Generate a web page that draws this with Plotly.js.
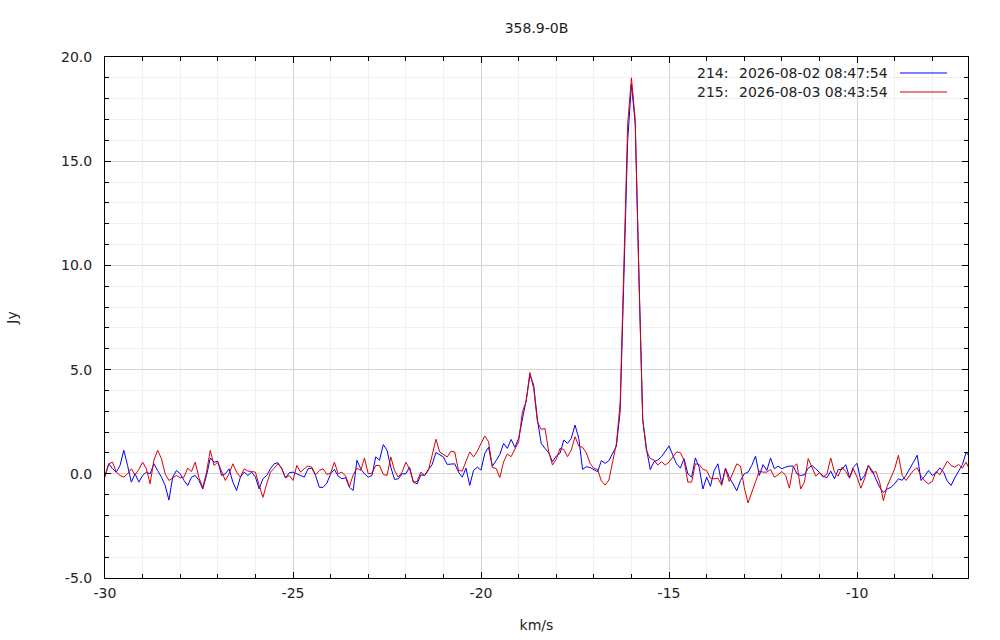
<!DOCTYPE html>
<html>
<head>
<meta charset="utf-8">
<script src="https://cdn.plot.ly/plotly-3.0.1.min.js"></script>
<style>
  html, body { margin: 0; padding: 0; background: #fff; }
  #plot { width: 1000px; height: 640px; }
</style>
</head>
<body>
<div id="plot"></div>
<script>
// channel velocities: -30.0 .. -7.0 km/s, 0.1 km/s per channel
var velStart = -30.0;
var velStep = 0.1;

var scanIds = ['214:', '215:'];
var scanTimes = ['2026-08-02 08:47:54', '2026-08-03 08:43:54'];

// tick labels (gnuplot style, plain hyphen minus)
var xTickVals = [-30, -25, -20, -15, -10];
var xTickText = ['-30', '-25', '-20', '-15', '-10'];
var yTickVals = [-5, 0, 5, 10, 15, 20];
var yTickText = ['-5.0', '0.0', '5.0', '10.0', '15.0', '20.0'];

// flux density (Jy), scan 214
var flux214 = [
  -0.08, 0.48, 0.24, 0.08, 0.4, 1.13, 0.4, -0.4, 0, -0.4,
  -0.08, 0.08, 0, 0.48, 0.16, -0.16, -0.56, -1.26, -0.16, 0.16,
  0, -0.32, -0.56, -0.16, -0.08, -0.32, -0.73, -0.08, 0.76, 0.56,
  0.6, -0.08, 0, 0.24, -0.4, -0.8, -0.16, 0.08, -0.08, 0.08,
  -0.16, -0.73, -0.24, -0.08, 0.24, 0.48, 0.53, 0.24, -0.2, 0.05,
  0.08, 0, -0.08, -0.16, 0.24, 0.27, -0.08, -0.65, -0.65, -0.45,
  0, 0.21, -0.11, -0.24, -0.19, -0.65, -0.8, 0.65, 0.24, 0,
  -0.16, -0.08, 0.81, 0.65, 1.4, 1.13, 0.32, -0.27, -0.24, 0,
  0, 0.32, -0.4, -0.48, -0.05, -0.08, 0.21, 0.44, 1.02, 0.92,
  0.81, 0.45, 0.47, 0.48, 0.08, -0.16, 0.27, -0.56, 0.16, 0.32,
  0.18, 0.98, 1.27, 0.37, 0.63, 0.93, 1.46, 1.22, 1.65, 1.27,
  1.7, 2.58, 3.54, 4.74, 4.26, 2.58, 1.46, 1.22, 1.01, 0.58,
  0.85, 0.98, 1.62, 1.46, 1.7, 2.34, 1.7, 0.21, 0.34, 0.3,
  0.21, 0.1, 0.63, 0.5, 0.63, 0.98, 1.33,
  3.0, 10.0, 16.0, 18.7, 16.8, 9.5, 2.6, 1.2,
  0.2, 0.58, 0.66, 0.82, 1.06,
  1.34, 0.89, 0.48, 0.27, 0.73, 0, -0.16, 0.76, 0.32, -0.73,
  -0.16, -0.6, 0.16, 0.48, -0.48, 0.27, -0.16, -0.48, -0.81, -0.32,
  0, 0.08, 0.4, 0.85, -0.08, 0.44, 0.16, 0.76, 0.24, 0.37,
  0.24, 0.32, 0.37, 0.37, 0, -0.08, -0.05, 0.27, 0.4, 0.24,
  0.05,
  -0.11, -0.19, 0.13, -0.24, 0.21, 0.21, 0.44, -0.18, 0.32, 0.5,
  -0.32, -0.08, 0.4, 0.16, -0.29, -0.65, -0.89, -0.73, -0.65, -0.48,
  -0.24, -0.31, -0.08, 0.27, 0.56, 0.89, -0.32, -0.11, 0.16, -0.08,
  0.03, 0.29, 0.08, -0.35, -0.56, -0.19, 0.16, 0.44, 1.02, 0.81
];

// flux density (Jy), scan 215
var flux215 = [
  -0.16, 0.48, 0.56, 0.08, -0.08, -0.16, 0, 0.24, -0.05, 0.21,
  0.56, 0.24, -0.48, 0.65, 1.13, 0.73, 0, -0.32, -0.2, -0.08,
  -0.19, -0.16, 0.27, 0.11, 0.56, -0.2, -0.65, 0.08, 1.13, 0.4,
  0.56, 0.16, -0.32, 0, 0.48, 0.08, -0.16, 0.24, 0.13, 0.11,
  0.08, -0.56, -1.13, -0.48, 0.08, 0.27, 0.48, 0.27, -0.2, -0.08,
  -0.32, 0.4, 0.08, 0.24, 0.37, 0.32, -0.05, 0.16, 0.24, -0.03,
  0.03, 0.56, 0, 0.08, -0.11, -0.61, -0.05, 0.27, 0.16, 0.76,
  0, 0.03, 0.4, 0.4, -0.03, -0.08, 0.81, 0.16, -0.16, 0.08,
  0.56, 0.24, -0.4, -0.37, 0.08, -0.08, 0.16, 0.89, 1.66, 1.05,
  0.92, 0.81, 1.08, 1.05, 0.16, 0.13, 0.6, 1.05, 0.81, 1.08,
  1.46, 1.81, 1.54, 0.3, 0.26, -0.18, 0.58, 0.95, 0.82, 1.2,
  1.54, 2.98, 3.46, 4.86, 4.1, 2.5, 2.13, 2.18, 1.06, 0.42,
  0.69, 1.22, 1.17, 0.82, 1.14, 1.78, 1.33, 1.27, 1.01, 0.5,
  0.26, 0.21, -0.34, -0.54, -0.3, 0.58, 1.46,
  3.4, 10.4, 16.8, 19.0, 17.0, 9.3, 2.6, 1.1,
  0.74, 0.66, 0.42, 0.58, 0.42,
  0.56, 0.81, 1.05, 1.02, 0.65, -0.4, -0.4, 0.48, 0.45, 0.21,
  0.16, -0.21, -0.24, -0.21, -0.56, 0.24, -0.37, 0.05, 0.48, 0.37,
  -0.65, -1.4, -0.89, -0.4, 0.13, 0.08, 0.08, 0.21, -0.16, -0.05,
  0.11, -0.08, -0.69, 0.32, 0.48, -0.73, -0.4, 0.73, 0.32, -0.11,
  0.05,
  -0.16, 0, 0.76, 0.08, -0.11, 0.32, 0.11, -0.21, 0.24, -0.16,
  -0.69, -0.24, 0.4, 0.05, 0.11, -0.4, -1.29, -0.6, -0.21, 0.24,
  0.89, -0.08, -0.32, -0.08, 0.16, 0.29, -0.11, -0.35, -0.48, -0.37,
  0.11, -0.05, 0.32, 0.61, 0.4, 0.32, 0.45, 0.27, 0.56, 0.16
];

var vel = flux214.map(function (d, i) {
  return Math.round((velStart + i * velStep) * 100) / 100;
});

var blue = '#0000ff';
var red = '#dd0000';
var txt = '#222222';
var fnt = 'DejaVu Sans, sans-serif';

var trace214 = {
  x: vel, y: flux214, type: 'scatter', mode: 'lines',
  line: { color: blue, width: 1 },
  name: scanIds[0] + ' ' + scanTimes[0]
};
var trace215 = {
  x: vel, y: flux215, type: 'scatter', mode: 'lines',
  line: { color: red, width: 1 },
  name: scanIds[1] + ' ' + scanTimes[1]
};

var axisCommon = {
  showline: true, linecolor: '#000', linewidth: 1,
  mirror: 'allticks',
  ticks: 'inside', ticklen: 6, tickcolor: '#000',
  showgrid: true, gridcolor: '#d4d4d4', gridwidth: 1,
  zeroline: false,
  tickmode: 'array',
  tickfont: { family: fnt, size: 14, color: txt },
  minor: {
    dtick: 1, ticks: 'inside', ticklen: 4, tickcolor: '#000',
    showgrid: true, gridcolor: '#f0f0f0', gridwidth: 1
  }
};

var layout = {
  width: 1000, height: 640,
  margin: { l: 105, r: 32, t: 57, b: 62 },
  paper_bgcolor: '#fff', plot_bgcolor: '#fff',
  font: { family: fnt, size: 14, color: txt },
  showlegend: false,
  title: {
    text: '358.9-0B', font: { family: fnt, size: 14, color: txt },
    x: 0.5, xref: 'paper', y: 1 - 28 / 640, yref: 'container', yanchor: 'middle'
  },
  xaxis: Object.assign({}, axisCommon, {
    range: [-30, -7.05],
    tickvals: xTickVals, ticktext: xTickText,
    ticklabelstandoff: 2,
    title: { text: 'km/s', font: { family: fnt, size: 14, color: txt }, standoff: 20 }
  }),
  yaxis: Object.assign({}, axisCommon, {
    range: [-5, 20],
    tickvals: yTickVals, ticktext: yTickText,
    ticklabelstandoff: 9,
    minor: Object.assign({}, axisCommon.minor),
    title: { text: 'Jy', font: { family: fnt, size: 14, color: txt }, standoff: 40 }
  }),
  // legend drawn gnuplot style: text first, line sample on the right
  annotations: [],
  shapes: []
};

var legendRows = [0.9693, 0.9328];
var legendColors = [blue, red];
for (var k = 0; k < 2; k++) {
  layout.annotations.push({
    text: scanIds[k], xref: 'paper', yref: 'paper', x: (695 - 105) / 863, y: legendRows[k],
    xanchor: 'left', yanchor: 'middle', showarrow: false,
    font: { family: fnt, size: 14, color: txt }
  });
  layout.annotations.push({
    text: scanTimes[k], xref: 'paper', yref: 'paper', x: (890 - 105) / 863, y: legendRows[k],
    xanchor: 'right', yanchor: 'middle', showarrow: false,
    font: { family: fnt, size: 14, color: txt }
  });
  layout.shapes.push({
    type: 'line', xref: 'paper', yref: 'paper', x0: 0.9212, x1: 0.9757,
    y0: legendRows[k], y1: legendRows[k], line: { color: legendColors[k], width: 1 }
  });
}

Plotly.newPlot('plot', [trace214, trace215], layout, { displayModeBar: false, staticPlot: true });
</script>
</body>
</html>
